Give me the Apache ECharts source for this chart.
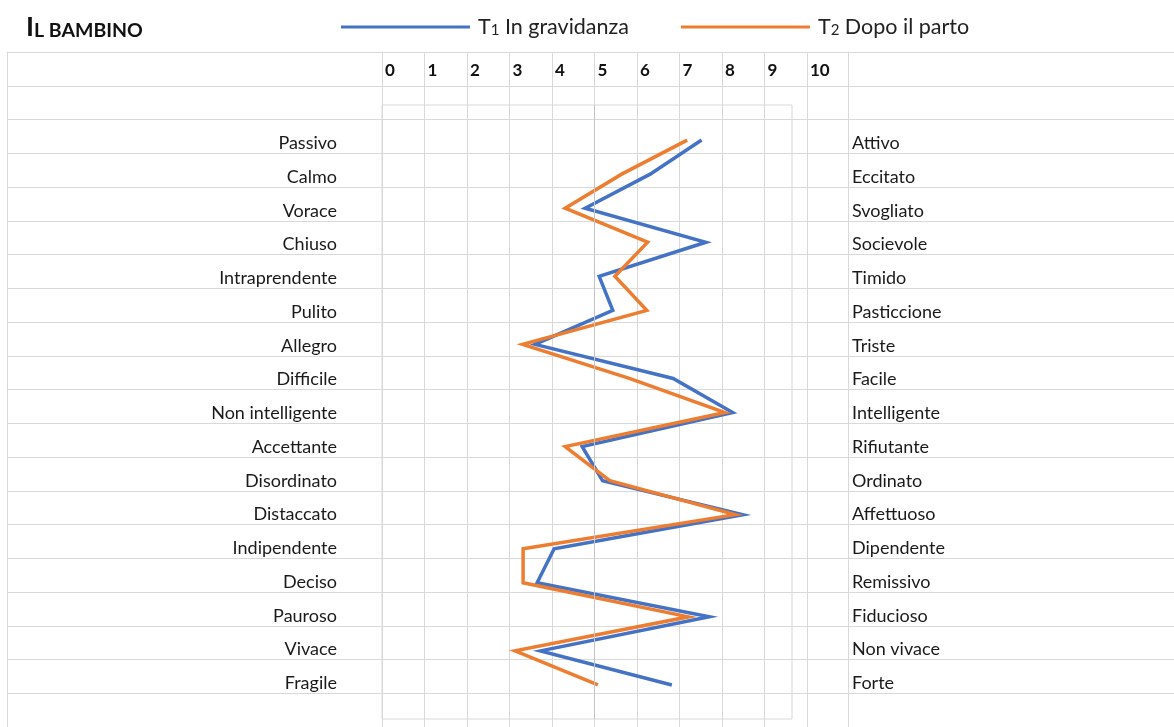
<!DOCTYPE html>
<html><head><meta charset="utf-8">
<script src="https://cdn.jsdelivr.net/npm/echarts@6/dist/echarts.min.js"></script>
<style>html,body{margin:0;padding:0;background:#fff}#c{width:1174px;height:727px}</style>
</head><body><div id="c"></div>
<script>
// ---- data ----
const leftLabels = ['Passivo','Calmo','Vorace','Chiuso','Intraprendente','Pulito','Allegro','Difficile','Non intelligente','Accettante','Disordinato','Distaccato','Indipendente','Deciso','Pauroso','Vivace','Fragile'];
const rightLabels = ['Attivo','Eccitato','Svogliato','Socievole','Timido','Pasticcione','Triste','Facile','Intelligente','Rifiutante','Ordinato','Affettuoso','Dipendente','Remissivo','Fiducioso','Non vivace','Forte'];
const scaleTicks = [0,1,2,3,4,5,6,7,8,9,10];
const t1Values = [7.52,6.31,4.78,7.62,5.11,5.43,3.60,6.85,8.25,4.71,5.19,8.49,4.05,3.65,7.70,3.73,6.82];
const t2Values = [7.18,5.64,4.31,6.25,5.48,6.23,3.31,5.82,8.07,4.31,5.36,8.31,3.32,3.32,7.21,3.13,5.08];
const seriesNames = ['T1 In gravidanza','T2 Dopo il parto'];
const titleText = 'IL BAMBINO';

// ---- layout / style ----
const FONT = 'Lato';
const GRIDLINE = '#d9d9d9';
const rowsLeft = ['', ''].concat(leftLabels, ['']);
const rowsRight = ['', ''].concat(rightLabels, ['']);
const rowsBlank = rowsLeft.map(() => '');

const chart = echarts.init(document.getElementById('c'), null, {renderer: 'canvas'});
const rowLabel = (margin) => ({
  interval: 0, margin: margin, verticalAlign: 'top', lineHeight: 14,
  fontFamily: FONT, fontSize: 18, color: '#1a1a1a'
});
const option = {
  backgroundColor: '#fff',
  animation: false,
  title: {
    text: '{b|' + titleText.charAt(0) + '}{s|' + titleText.slice(1) + '}',
    left: 21, top: 9,
    textStyle: {
      rich: {
        b: {fontFamily: FONT, fontWeight: 'bold', fontSize: 27, color: '#111', verticalAlign: 'bottom'},
        s: {fontFamily: FONT, fontWeight: 'bold', fontSize: 19.5, color: '#111', verticalAlign: 'bottom'}
      }
    }
  },
  legend: {
    data: seriesNames.map(n => ({name: n, icon: 'rect'})),
    left: 341, top: 16, padding: 0,
    itemWidth: 129, itemHeight: 3, itemGap: 52,
    formatter: name => {
      const m = name.match(/^T(\d)(.*)$/);
      return '{a|T}{s|' + m[1] + '}{a|' + m[2] + '}';
    },
    textStyle: {
      padding: [0, 0, 0, 3],
      rich: {
        a: {fontFamily: FONT, fontSize: 21.5, color: '#222'},
        s: {fontFamily: FONT, fontSize: 15, color: '#222', verticalAlign: 'bottom'}
      }
    }
  },
  grid: [
    {left: 7, right: -5, top: 52, height: 680},
    {left: 382, width: 425, top: 52, height: 680},
    {left: 382, width: 410, top: 105, height: 614, show: true, borderColor: GRIDLINE, borderWidth: 1, backgroundColor: 'transparent'}
  ],
  xAxis: [
    {gridIndex: 0, type: 'value', position: 'top', min: 0, max: 1,
     axisLine: {show: true, lineStyle: {color: GRIDLINE}}, axisTick: {show: false}, axisLabel: {show: false}, splitLine: {show: false}},
    {gridIndex: 1, type: 'value', position: 'top', min: 0, max: 10, interval: 1,
     axisLine: {show: false}, axisTick: {show: false},
     splitLine: {show: true, lineStyle: {color: GRIDLINE, width: 1}},
     axisLabel: {inside: true, margin: 10, align: 'left', padding: [0, 0, 0, 3],
       fontFamily: FONT, fontWeight: 'bold', fontSize: 17, color: '#111',
       formatter: v => String(scaleTicks[v])}},
    {gridIndex: 2, type: 'value', min: 0, max: 410 / 42.5, show: false}
  ],
  yAxis: [
    {gridIndex: 0, type: 'category', inverse: true, data: rowsBlank,
     axisLine: {show: true, lineStyle: {color: GRIDLINE}}, axisTick: {show: false}, axisLabel: {show: false},
     splitLine: {show: true, interval: 0, lineStyle: {color: GRIDLINE, width: 1.2}}},
    {gridIndex: 1, type: 'category', inverse: true, data: rowsLeft, position: 'left', offset: 42,
     axisLine: {show: true, lineStyle: {color: GRIDLINE}}, axisTick: {show: false},
     axisLabel: rowLabel(3), splitLine: {show: false}},
    {gridIndex: 1, type: 'category', inverse: true, data: rowsRight, position: 'right', offset: 41,
     axisLine: {show: true, lineStyle: {color: GRIDLINE}}, axisTick: {show: false},
     axisLabel: rowLabel(4), splitLine: {show: false}},
    {gridIndex: 2, type: 'value', inverse: true, min: -1.03, max: 17, show: false}
  ],
  series: [
    {name: seriesNames[0], type: 'line', xAxisIndex: 2, yAxisIndex: 3,
     data: t1Values.map((v, i) => [v, i]), symbol: 'none', color: '#4472C4',
     lineStyle: {width: 3.5, color: '#4472C4', join: 'miter'},
     markLine: {silent: true, symbol: 'none', label: {show: false},
       lineStyle: {color: '#c4c4c4', width: 1, type: 'solid'}, data: [{xAxis: 5}]}},
    {name: seriesNames[1], type: 'line', xAxisIndex: 2, yAxisIndex: 3,
     data: t2Values.map((v, i) => [v, i]), symbol: 'none', color: '#ED7D31',
     lineStyle: {width: 3.5, color: '#ED7D31', join: 'miter'}}
  ]
};
chart.setOption(option);
</script>
</body></html>
